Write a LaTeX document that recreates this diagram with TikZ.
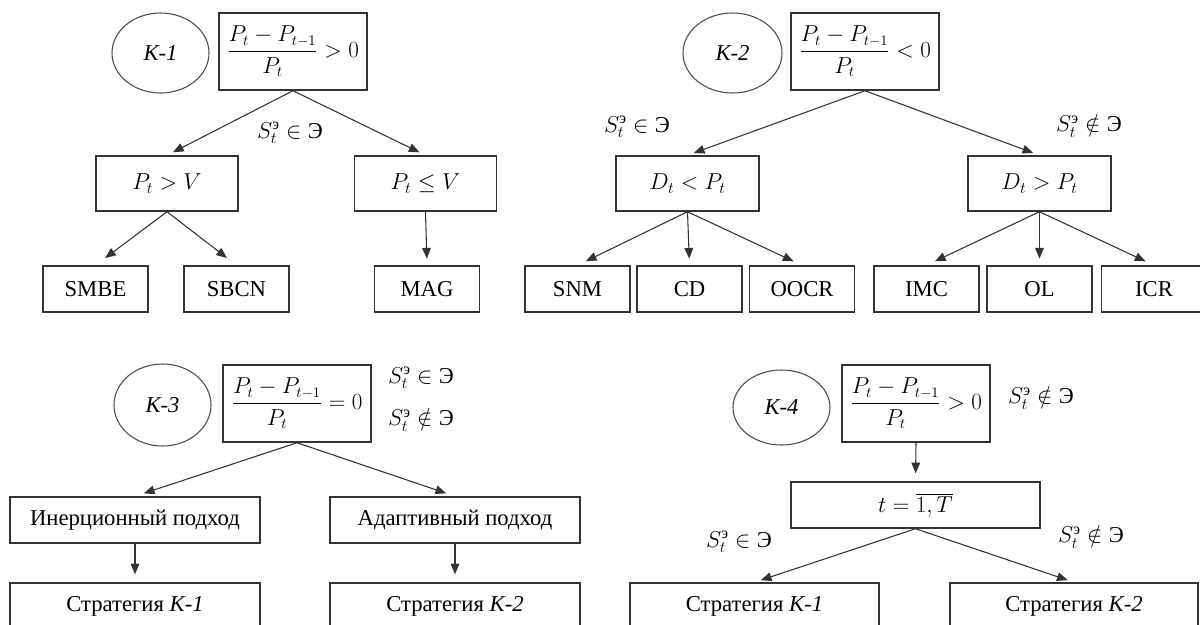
\documentclass[tikz,border=0pt]{standalone}
\usepackage{amsmath}
\usepackage{fontspec}
\setmainfont{Liberation Serif}
\usetikzlibrary{shapes.geometric,arrows.meta}
\newcommand{\Sin}{$S_t^{\text{э}} \in \text{Э}$}
\newcommand{\Snin}{$S_t^{\text{э}} \notin \text{Э}$}
\newcommand{\frm}[1]{\fontsize{16}{19}\selectfont$\displaystyle\frac{P_t - P_{t-1}}{P_t} #1 0$}
\begin{document}
\begin{tikzpicture}[x=0.75pt,y=-0.75pt,
  font=\fontsize{17}{20}\selectfont,
  box/.style={draw=black!80, line width=1.1pt, rectangle, inner sep=0pt, minimum height=34.5pt},
  sbox/.style={box, minimum width=78.75pt},
  cbox/.style={box, minimum width=106.5pt, minimum height=41.25pt},
  wbox/.style={box, minimum width=187.5pt},
  frmbox/.style={box, minimum width=111pt, minimum height=57.75pt},
  oval/.style={draw=black!70, line width=0.8pt, ellipse, inner sep=0pt, minimum width=72.75pt, minimum height=60pt},
  arr/.style={-{Triangle[length=8pt,width=6.5pt]}, draw=black!80, line width=0.8pt, shorten >=5pt},
  lbl/.style={inner sep=0pt}]
\useasboundingbox (0,0) rectangle (1200,625);
\fill[white] (0,0) rectangle (1200,625);
\clip (0,0) rectangle (1200,625);

% ---------- K-1 ----------
\node[oval] (k1) at (160.5,53) {\textit{K-1}};
\node[frmbox] (f1) at (293,51.5) {\frm{>}};
\node[cbox] (a1) at (167,183.5) {$P_t > V$};
\node[cbox] (b1) at (425.5,183.5) {$P_t \leq V$};
\node[sbox] (smbe) at (95.5,289) {SMBE};
\node[sbox] (sbcn) at (236.5,289) {SBCN};
\node[sbox] (mag) at (427,289) {MAG};
\node[lbl] (l1) at (290,133) {\Sin};
\draw[arr] (f1.south) -- (a1.north);
\draw[arr] (f1.south) -- (b1.north);
\draw[arr, shorten >=9pt] (a1.south) -- (smbe.north);
\draw[arr, shorten >=9pt] (a1.south) -- (sbcn.north);
\draw[arr] (b1.south) -- (mag.north);

% ---------- K-2 ----------
\node[oval, minimum width=74.25pt] (k2) at (732.5,53) {\textit{K-2}};
\node[frmbox] (f2) at (865,51.5) {\frm{<}};
\node[cbox, minimum width=107.25pt] (c2) at (687.5,183.5) {$D_t < P_t$};
\node[cbox, minimum width=107.25pt] (d2) at (1039.5,183.5) {$D_t > P_t$};
\node[sbox] (snm) at (577.5,289) {SNM};
\node[sbox] (cd) at (689.5,289) {CD};
\node[sbox] (oocr) at (802,289) {OOCR};
\node[sbox] (imc) at (926.5,289) {IMC};
\node[sbox] (ol) at (1039.5,289) {OL};
\node[sbox] (icr) at (1154,289) {ICR};
\node[lbl] (l2a) at (637,127) {\Sin};
\node[lbl] (l2b) at (1089,126) {\Snin};
\draw[arr] (f2.south) -- (c2.north);
\draw[arr] (f2.south) -- (d2.north);
\draw[arr, shorten >=7pt] (c2.south) -- (snm.north);
\draw[arr] (c2.south) -- (cd.north);
\draw[arr, shorten >=7pt] (c2.south) -- (oocr.north);
\draw[arr, shorten >=7pt] (d2.south) -- (imc.north);
\draw[arr] (d2.south) -- (ol.north);
\draw[arr, shorten >=7pt] (d2.south) -- (icr.north);

% ---------- K-3 ----------
\node[oval, minimum height=61.5pt] (k3) at (162.5,405) {\textit{K-3}};
\node[frmbox] (f3) at (297,403.5) {\frm{=}};
\node[lbl] (l3a) at (421,378) {\Sin};
\node[lbl] (l3b) at (421,420) {\Snin};
\node[wbox] (i3) at (135,520) {Инерционный подход};
\node[wbox] (a3) at (455,520) {Адаптивный подход};
\node[wbox] (s31) at (135,606) {Стратегия \textit{K-1}};
\node[wbox] (s32) at (455,606) {Стратегия \textit{K-2}};
\draw[arr, shorten >=7pt] (f3.south) -- (i3.north);
\draw[arr, shorten >=7pt] (f3.south) -- (a3.north);
\draw[arr, shorten >=6pt] (i3.south) -- (s31.north);
\draw[arr, shorten >=6pt] (a3.south) -- (s32.north);

% ---------- K-4 ----------
\node[oval, minimum height=56.25pt] (k4) at (781.5,407.5) {\textit{K-4}};
\node[frmbox] (f4) at (916,403.5) {\frm{>}};
\node[lbl] (l4a) at (1041,398) {\Snin};
\node[wbox, minimum width=186.75pt] (t4) at (915.5,505) {$t = \overline{1,T}$};
\node[wbox, minimum width=186.75pt] (s41) at (754.5,606) {Стратегия \textit{K-1}};
\node[wbox, minimum width=186pt] (s42) at (1074,606) {Стратегия \textit{K-2}};
\node[lbl] (l4b) at (739,542) {\Sin};
\node[lbl] (l4c) at (1091,537) {\Snin};
\draw[arr, shorten >=6pt] (f4.south) -- (t4.north);
\draw[arr] (t4.south) -- (s41.north);
\draw[arr] (t4.south) -- (s42.north);
\end{tikzpicture}
\end{document}
